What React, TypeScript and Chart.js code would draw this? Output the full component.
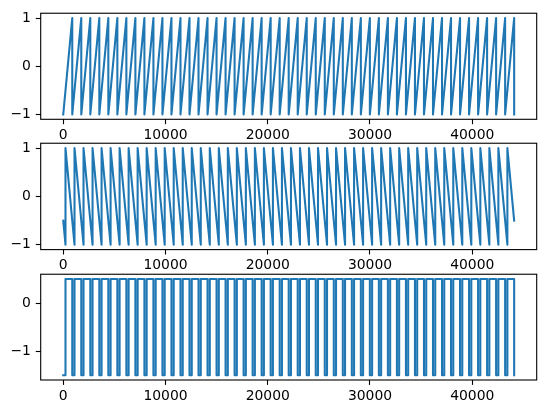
import React, { useEffect, useRef } from 'react';
import { Chart, registerables } from 'chart.js';

Chart.register(...registerables);

// Sample indices where each 50 Hz period starts (44100 samples, 882 per period)
const periodEdges = [
  0, 882, 1764, 2646, 3528, 4410, 5292, 6174, 7056, 7938,
  8820, 9702, 10584, 11466, 12348, 13230, 14112, 14994, 15876, 16758,
  17640, 18522, 19404, 20286, 21168, 22050, 22932, 23814, 24696, 25578,
  26460, 27342, 28224, 29106, 29988, 30870, 31752, 32634, 33516, 34398,
  35280, 36162, 37044, 37926, 38808, 39690, 40572, 41454, 42336, 43218,
  44100,
];
// Quarter-period shifted edges (used by the 2nd and 3rd waveforms)
const shiftedEdges = [
  220, 1102, 1984, 2866, 3748, 4630, 5512, 6394, 7276, 8158,
  9040, 9922, 10804, 11686, 12568, 13450, 14332, 15214, 16096, 16978,
  17860, 18742, 19624, 20506, 21388, 22270, 23152, 24034, 24916, 25798,
  26680, 27562, 28444, 29326, 30208, 31090, 31972, 32854, 33736, 34618,
  35500, 36382, 37264, 38146, 39028, 39910, 40792, 41674, 42556, 43438,
];

const sawLow = -1;
const sawHigh = 1;
const midStart = -0.5;
const midEnd = -0.5;
const sqLow = -1.5;
const sqHigh = 0.5;

const xTicks = [0, 10000, 20000, 30000, 40000];
const sawYTicks = [-1, 0, 1];
const sqYTicks = [-1, 0];
const xRange = [-2205, 46305];
const sawYRange = [-1.1, 1.1];
const sqYRange = [-1.6, 0.6];

type P = { x: number; y: number };

function buildRising(): P[] {
  const pts: P[] = [{ x: periodEdges[0], y: sawLow }];
  for (let k = 1; k < periodEdges.length; k++) {
    pts.push({ x: periodEdges[k], y: sawHigh });
    pts.push({ x: periodEdges[k], y: sawLow });
  }
  return pts;
}

function buildFalling(): P[] {
  const pts: P[] = [{ x: periodEdges[0], y: midStart }];
  for (const b of shiftedEdges) {
    pts.push({ x: b, y: sawLow });
    pts.push({ x: b, y: sawHigh });
  }
  pts.push({ x: periodEdges[periodEdges.length - 1], y: midEnd });
  return pts;
}

function buildSquare(): P[] {
  const pts: P[] = [{ x: periodEdges[0], y: sqLow }];
  for (let k = 0; k < shiftedEdges.length; k++) {
    pts.push({ x: shiftedEdges[k], y: sqLow });
    pts.push({ x: shiftedEdges[k], y: sqHigh });
    pts.push({ x: periodEdges[k + 1], y: sqHigh });
    pts.push({ x: periodEdges[k + 1], y: sqLow });
  }
  return pts;
}

const FONT = { family: 'DejaVu Sans', size: 13.9 };
const fmt = (v: number) => (v < 0 ? '\u2212' + Math.abs(v) : String(v));

const framePlugin = {
  id: 'frame',
  afterDraw(chart: any) {
    const { ctx, chartArea } = chart;
    const { left, top, right, bottom } = chartArea;
    ctx.save();
    ctx.strokeStyle = '#000';
    ctx.lineWidth = 1.1;
    ctx.strokeRect(left, top, right - left, bottom - top);
    ctx.restore();
  },
};

const AXES_H = 108.7;
const CANVAS_H = 152;
const Y_AXIS_W = 40.7;
const PAD_RIGHT = 9.3;

function makeConfig(points: P[], yRange: number[], yTicks: number[], padTop: number): any {
  const xAxisH = CANVAS_H - padTop - AXES_H;
  return {
    type: 'line',
    data: {
      datasets: [
        {
          data: points,
          borderColor: '#1f77b4',
          borderWidth: 2.08,
          pointRadius: 0,
          tension: 0,
          fill: false,
          borderJoinStyle: 'round',
          borderCapStyle: 'square',
        },
      ],
    },
    options: {
      animation: false,
      responsive: false,
      maintainAspectRatio: false,
      devicePixelRatio: 1,
      events: [],
      layout: { padding: { top: padTop, right: PAD_RIGHT, left: 0, bottom: 0 } },
      plugins: { legend: { display: false }, tooltip: { enabled: false } },
      scales: {
        x: {
          type: 'linear',
          min: xRange[0],
          max: xRange[1],
          afterBuildTicks: (s: any) => {
            s.ticks = xTicks.map((v) => ({ value: v }));
          },
          afterFit: (s: any) => {
            s.height = xAxisH;
          },
          ticks: {
            autoSkip: false,
            maxRotation: 0,
            color: '#000',
            font: FONT,
            padding: 3,
            callback: (v: number) => fmt(v),
          },
          grid: {
            drawOnChartArea: false,
            drawTicks: true,
            tickLength: 4.9,
            tickWidth: 1.1,
            tickColor: '#000',
            color: '#000',
          },
          border: { display: false },
        },
        y: {
          type: 'linear',
          min: yRange[0],
          max: yRange[1],
          afterBuildTicks: (s: any) => {
            s.ticks = yTicks.map((v) => ({ value: v }));
          },
          afterFit: (s: any) => {
            s.width = Y_AXIS_W;
          },
          ticks: {
            autoSkip: false,
            color: '#000',
            font: FONT,
            padding: 4.9,
            callback: (v: number) => fmt(v),
          },
          grid: {
            drawOnChartArea: false,
            drawTicks: true,
            tickLength: 4.9,
            tickWidth: 1.1,
            tickColor: '#000',
            color: '#000',
          },
          border: { display: false },
        },
      },
    },
    plugins: [framePlugin],
  };
}

const panelTops = [10.6, 140.9, 271.3];
const canvasTops = [0, 130, 261];

export default function App() {
  const r1 = useRef<HTMLCanvasElement>(null);
  const r2 = useRef<HTMLCanvasElement>(null);
  const r3 = useRef<HTMLCanvasElement>(null);

  useEffect(() => {
    document.body.style.margin = '0';
    const series = [buildRising(), buildFalling(), buildSquare()];
    const ranges = [sawYRange, sawYRange, sqYRange];
    const ticks = [sawYTicks, sawYTicks, sqYTicks];
    const refs = [r1, r2, r3];
    const charts = refs.map((r, i) =>
      new Chart(
        r.current as HTMLCanvasElement,
        makeConfig(series[i], ranges[i], ticks[i], panelTops[i] - canvasTops[i])
      )
    );
    return () => charts.forEach((c) => c.destroy());
  }, []);

  const cs = (i: number): React.CSSProperties => ({
    position: 'absolute',
    left: 0,
    top: canvasTops[i],
    width: 546,
    height: CANVAS_H,
  });

  return (
    <div style={{ position: 'absolute', left: 0, top: 0, width: 546, height: 413, background: '#fff' }}>
      <canvas ref={r1} width={546} height={CANVAS_H} style={cs(0)} />
      <canvas ref={r2} width={546} height={CANVAS_H} style={cs(1)} />
      <canvas ref={r3} width={546} height={CANVAS_H} style={cs(2)} />
    </div>
  );
}
